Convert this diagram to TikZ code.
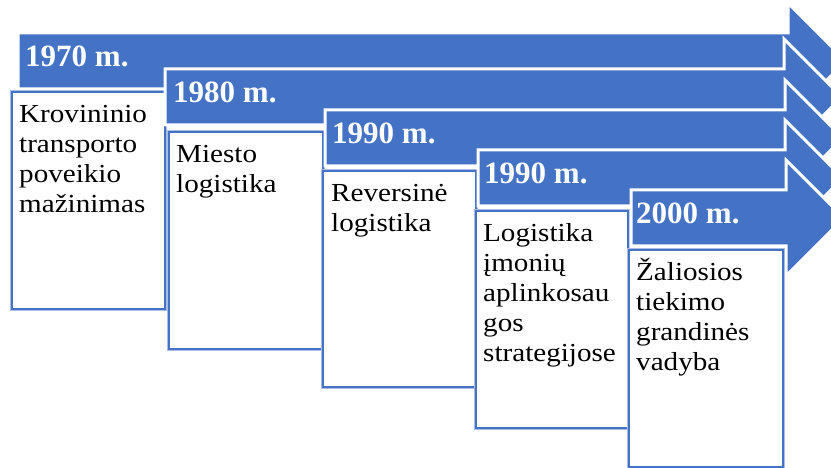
\documentclass[tikz,border=0pt]{standalone}
\usepackage{fontspec}
\setmainfont{Liberation Serif}
\newfontfamily\bodyfont[FakeStretch=1.12]{Liberation Serif}
\definecolor{obl}{HTML}{4472C4}
\definecolor{obllight}{HTML}{A9BDE3}
\newcommand{\myarrow}[3]{% left, top, head x
  \path[arrowshape] (#1,#2) -- (#3,#2) -- (#3,#2-30) -- (#3+58,#2+28) -- (#3,#2+86) -- (#3,#2+56) -- (#1,#2+56) -- cycle;}
\newcommand{\mybox}[4]{%
  \path[boxshape] (#1,#2) rectangle (#3,#4);}
\begin{document}
\begin{tikzpicture}[x=1pt,y=-1pt,
  arrowshape/.style={fill=obl, draw=white, line width=3pt, line join=miter},
  boxshape/.style={fill=white, draw=obl, line width=2.6pt,
    preaction={draw=obllight, line width=4.2pt}},
  yearlabel/.style={anchor=base west, text=white, inner sep=0pt,
    font=\bfseries\fontsize{31}{36}\selectfont},
  boxtext/.style={anchor=north west, align=left, inner sep=0pt,
    font=\bodyfont\fontsize{26}{30}\selectfont}]
\useasboundingbox (0,0) rectangle (831,468);
\clip (0,0) rectangle (831,468);

% 1970
\myarrow{18}{33}{788}
\node[yearlabel] (y1) at (25,67) {1970 m.};
\mybox{12}{92}{165}{309}
\node[boxtext] (t1) at (19,97) {\rule{0pt}{25pt}Krovininio\\transporto\\poveikio\\mažinimas};

% 1980
\myarrow{165}{69}{784}
\node[yearlabel] (y2) at (173,103) {1980 m.};
\mybox{169}{132}{323}{349}
\node[boxtext] (t2) at (176,137) {\rule{0pt}{25pt}Miesto\\logistika};

% 1990
\myarrow{325}{110}{785}
\node[yearlabel] (y3) at (332,144) {1990 m.};
\mybox{323}{171}{476}{387}
\node[boxtext] (t3) at (331,176) {\rule{0pt}{25pt}Reversinė\\logistika};

% 1990
\myarrow{478}{150}{785}
\node[yearlabel] (y4) at (484,184) {1990 m.};
\mybox{476}{211}{628}{428}
\node[boxtext] (t4) at (483,216) {\rule{0pt}{25pt}Logistika\\įmonių\\aplinkosau\\gos\\strategijose};

% 2000
\myarrow{631}{190}{786}
\node[yearlabel] (y5) at (636,224) {2000 m.};
\mybox{629}{250}{783}{467}
\node[boxtext] (t5) at (636,255) {\rule{0pt}{25pt}Žaliosios\\tiekimo\\grandinės\\vadyba};
\end{tikzpicture}
\end{document}
